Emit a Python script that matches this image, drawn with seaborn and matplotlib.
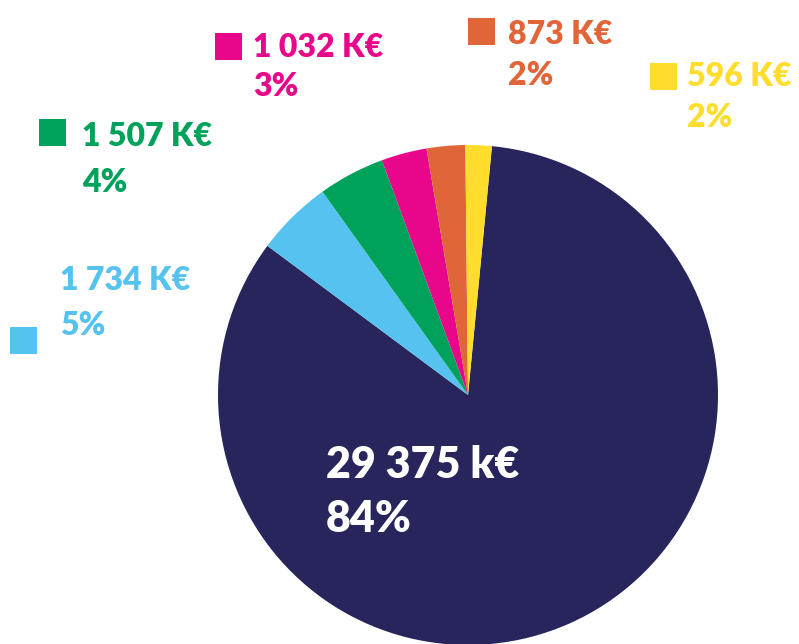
import matplotlib
matplotlib.use("Agg")
import matplotlib.pyplot as plt
import seaborn as sns
from matplotlib.patches import Rectangle

sns.set_theme(style="white")
plt.rcParams['font.family'] = ['Lato', 'DejaVu Sans']

# Data
categories = ["Principal", "Catégorie B", "Catégorie C", "Catégorie D", "Catégorie E", "Catégorie F"]
values_k = [29375, 1734, 1507, 1032, 873, 596]
value_labels = ["29 375 k€", "1 734 K€", "1 507 K€", "1 032 K€", "873 K€", "596 K€"]
pct_labels = ["84%", "5%", "4%", "3%", "2%", "2%"]
colors = ["#27255B", "#56C2EF", "#00A15A", "#E8068A", "#E0663A", "#FEDD2D"]

W, H = 799, 644
fig = plt.figure(figsize=(W / 100, H / 100), dpi=100)
fig.patch.set_facecolor("white")

cx, cy, r = 468, 395, 250
ax = fig.add_axes([(cx - r) / W, 1 - (cy + r) / H, 2 * r / W, 2 * r / H])
ax.pie(values_k, colors=colors, startangle=84.5, counterclock=False,
       wedgeprops=dict(linewidth=0), radius=1.0)
ax.set_xlim(-1, 1)
ax.set_ylim(-1, 1)
ax.set_aspect("equal")
ax.axis("off")


def fx(x):
    return x / W


def fy(y):
    return 1 - y / H


# label layout: (text left x, baseline1 y, baseline2 y, square x, square y, size, line-size)
layout = {
    1: (60, 290, 335, 10, 327, 27),
    2: (82, 146, 192, 39, 119, 27),
    3: (253, 57, 96, 215, 33, 27),
    4: (508, 44, 85, 468, 18, 27),
    5: (687, 86, 127, 650, 63, 27),
}

for i, (tx, b1, b2, sx, sy, s) in layout.items():
    c = colors[i]
    fig.text(fx(tx), fy(b1), value_labels[i], color=c, fontsize=23,
             fontweight="heavy", va="baseline", ha="left")
    fig.text(fx(tx), fy(b2), pct_labels[i], color=c, fontsize=23,
             fontweight="heavy", va="baseline", ha="left")
    fig.patches.append(Rectangle((fx(sx), fy(sy + s)), s / W, s / H,
                                 transform=fig.transFigure, facecolor=c,
                                 edgecolor="none"))

fig.text(fx(326), fy(478), value_labels[0], color="white", fontsize=31,
         fontweight="heavy", va="baseline", ha="left")
fig.text(fx(326), fy(532), pct_labels[0], color="white", fontsize=31,
         fontweight="heavy", va="baseline", ha="left")

fig.savefig("out.png", dpi=100, facecolor="white")
